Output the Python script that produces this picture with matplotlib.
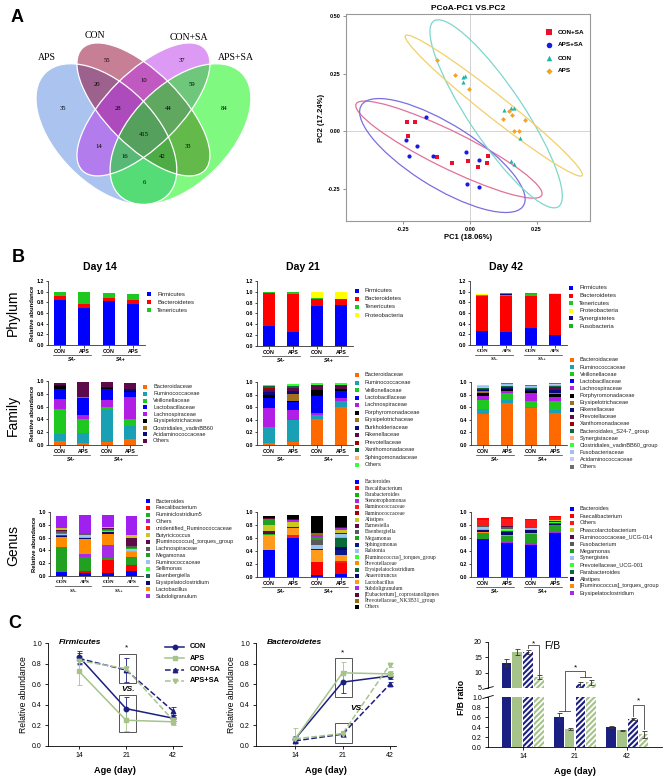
import matplotlib
matplotlib.use("Agg")
import matplotlib.pyplot as plt
import numpy as np
from matplotlib.lines import Line2D
from matplotlib.patches import Ellipse, Rectangle

plt.rcParams["font.family"] = ["Liberation Sans", "DejaVu Sans"]
plt.rcParams["hatch.linewidth"] = 1.3
plt.rcParams["hatch.color"] = "white"

W, H = 668, 777

# ---------------- panel A data ----------------
venn_sets = ["APS", "CON", "CON+SA", "APS+SA"]
venn_colors = ["#5789e1", "#91012d", "#bd37eb", "#01f501"]
venn_counts = [35, 55, 20, 10, 37, 59, 84, 28, 44, 415, 14, 33, 16, 42, 6]

pcoa_groups = ["CON+SA", "APS+SA", "CON", "APS"]
pcoa_colors = ["#e8102c", "#1a1ae6", "#1fb5ad", "#f5a21f"]
pcoa_ell_colors = ["#e2709a", "#7a6ee0", "#7fd6cc", "#f2cf6a"]
pcoa_markers = ["s", "o", "^", "D"]
con_sa_pc1 = [-0.236, -0.208, -0.234, -0.123, -0.066, -0.006, 0.031, 0.063, 0.066]
con_sa_pc2 = [0.039, 0.039, -0.022, -0.112, -0.138, -0.130, -0.155, -0.138, -0.109]
aps_sa_pc1 = [-0.167, -0.242, -0.199, -0.228, -0.138, -0.016, 0.033, -0.010, 0.033]
aps_sa_pc2 = [0.061, -0.039, -0.067, -0.110, -0.110, -0.090, -0.125, -0.232, -0.245]
con_pc1 = [-0.026, -0.018, -0.026, 0.128, 0.153, 0.165, 0.188, 0.153, 0.167]
con_pc2 = [0.233, 0.238, 0.213, 0.093, 0.100, 0.100, -0.030, -0.129, -0.143]
aps_pc1 = [-0.125, -0.056, -0.003, 0.148, 0.159, 0.125, 0.207, 0.165, 0.185]
aps_pc2 = [0.310, 0.245, 0.183, 0.086, 0.071, 0.052, 0.049, 0.001, 0.000]

# ---------------- panel B data ----------------
bar_groups = ["CON", "APS", "CON", "APS"]

phylum14_taxa = ["Firmicutes", "Bacteroidetes", "Tenericutes"]
phylum14_colors = ["#0000ff", "#ff0000", "#1ec81e"]
phylum14_values = [[0.85, 0.70, 0.83, 0.76],
                   [0.06, 0.06, 0.05, 0.09],
                   [0.08, 0.23, 0.095, 0.115]]

phylum21_taxa = ["Firmicutes", "Bacteroidetes", "Tenericutes", "Proteobacteria"]
phylum21_colors = ["#0000ff", "#ff0000", "#1ec81e", "#ffff00"]
phylum21_values = [[0.36, 0.25, 0.735, 0.75],
                   [0.61, 0.71, 0.13, 0.115],
                   [0.02, 0.03, 0.03, 0.01],
                   [0.0, 0.0, 0.095, 0.115]]

phylum42_taxa = ["Firmicutes", "Bacteroidetes", "Tenericutes", "Proteobacteria",
                 "Synergistetes", "Fusobacteria"]
phylum42_colors = ["#0000ff", "#ff0000", "#1ec81e", "#ffff00", "#0a0a80", "#1eb41e"]
phylum42_values = [[0.26, 0.24, 0.32, 0.19],
                   [0.66, 0.68, 0.60, 0.76],
                   [0.01, 0.02, 0.04, 0.0],
                   [0.02, 0.0, 0.0, 0.02],
                   [0.01, 0.01, 0.0, 0.0],
                   [0.0, 0.02, 0.02, 0.0]]

family14_taxa = ["Bacteroidaceae", "Ruminococcaceae", "Veillonellaceae", "Lactobacillaceae",
                 "Lachnospiraceae", "Erysipelotrichaceae", "Clostridiales_vadinBB60",
                 "Acidaminococcaceae", "Others"]
family14_colors = ["#ff6a00", "#1aa0b4", "#1ec81e", "#0000ff", "#b21ee6", "#000000",
                   "#a0701e", "#0a0a80", "#5c0a4a"]
family14_values = [[0.06, 0.035, 0.04, 0.09],
                   [0.105, 0.145, 0.50, 0.21],
                   [0.395, 0.22, 0.06, 0.10],
                   [0.155, 0.26, 0.17, 0.075],
                   [0.165, 0.07, 0.10, 0.355],
                   [0.035, 0.0, 0.015, 0.02],
                   [0.0, 0.02, 0.0, 0.0],
                   [0.02, 0.0, 0.015, 0.02],
                   [0.04, 0.24, 0.08, 0.105]]
family14_stack = [0, 1, 2, 4, 3, 5, 6, 7, 8]

family21_taxa = ["Bacteroidaceae", "Ruminococcaceae", "Veillonellaceae", "Lactobacillaceae",
                 "Lachnospiraceae", "Porphyromonadaceae", "Erysipelotrichaceae",
                 "Burkholderiaceae", "Rikenellaceae", "Prevotellaceae", "Xanthomonadaceae",
                 "Sphingomonadaceae", "Others"]
family21_colors = ["#ff6a00", "#1aa0b4", "#1ec81e", "#0000ff", "#b21ee6", "#000000",
                   "#a0701e", "#0a0a80", "#5c0a4a", "#a00000", "#0a6a3a", "#ffb482", "#33ff33"]
family21_values = [[0.03, 0.05, 0.41, 0.60],
                   [0.25, 0.345, 0.06, 0.10],
                   [0.0, 0.0, 0.0, 0.0],
                   [0.17, 0.115, 0.26, 0.11],
                   [0.30, 0.165, 0.04, 0.04],
                   [0.04, 0.02, 0.10, 0.04],
                   [0.0, 0.11, 0.0, 0.0],
                   [0.05, 0.06, 0.0, 0.0],
                   [0.03, 0.035, 0.085, 0.07],
                   [0.035, 0.0, 0.0, 0.0],
                   [0.025, 0.04, 0.0, 0.0],
                   [0.0, 0.0, 0.0, 0.0],
                   [0.03, 0.03, 0.025, 0.02]]
family21_stack = [0, 1, 2, 4, 3, 5, 6, 7, 8, 9, 10, 11, 12]

family42_taxa = ["Bacteroidaceae", "Ruminococcaceae", "Veillonellaceae", "Lactobacillaceae",
                 "Lachnospiraceae", "Porphyromonadaceae", "Erysipelotrichaceae",
                 "Rikenellaceae", "Prevotellaceae", "Xanthomonadaceae",
                 "Bacteroidales_S24-7_group", "Synergistaceae", "Clostridiales_vadinBB60_group",
                 "Fusobacteriaceae", "Acidaminococcaceae", "Others"]
family42_colors = ["#ff6a00", "#1aa0b4", "#1ec81e", "#0000ff", "#b21ee6", "#000000",
                   "#a0701e", "#0a0a80", "#5c0a4a", "#a00000", "#0a6a3a", "#ffb482",
                   "#33ff33", "#9cc3f5", "#c8c8f5", "#6e6e6e"]
family42_values = [[0.49, 0.67, 0.58, 0.51],
                   [0.08, 0.04, 0.03, 0.04],
                   [0.15, 0.11, 0.09, 0.15],
                   [0.0, 0.0, 0.0, 0.0],
                   [0.055, 0.03, 0.12, 0.06],
                   [0.055, 0.035, 0.03, 0.05],
                   [0.02, 0.01, 0.01, 0.02],
                   [0.025, 0.01, 0.02, 0.04],
                   [0.02, 0.01, 0.01, 0.05],
                   [0.0, 0.0, 0.0, 0.0],
                   [0.01, 0.02, 0.01, 0.01],
                   [0.01, 0.01, 0.01, 0.01],
                   [0.01, 0.01, 0.01, 0.01],
                   [0.01, 0.01, 0.01, 0.01],
                   [0.01, 0.005, 0.01, 0.01],
                   [0.015, 0.01, 0.01, 0.01]]
family42_stack = [0, 1, 2, 4, 3, 5, 6, 7, 8, 9, 10, 11, 12, 13, 14, 15]

genus14_taxa = ["Bacteroides", "Faecalibacterium", "Ruminiclostridium5", "Others",
                "unidentified_Ruminococcaceae", "Butyricicoccus",
                "[Ruminococcus]_torques_group", "Lachnospiraceae", "Megamonas",
                "Ruminococcaceae", "Sellimonas", "Eisenbergiella", "Erysipelatoclostridium",
                "Lactobacillus", "Subdoligranulum"]
genus14_colors = ["#0000ff", "#ff0000", "#1db31d", "#a020f0", "#ff1a1a", "#c8c81e",
                  "#5c0a4a", "#5a5a5a", "#22a022", "#9cc3f5", "#33ff33", "#0a6a4a",
                  "#0a0a70", "#ff8c00", "#a52be6"]
genus14_values = [[0.065, 0.04, 0.05, 0.08],
                  [0.0, 0.04, 0.20, 0.09],
                  [0.01, 0.01, 0.01, 0.02],
                  [0.175, 0.285, 0.20, 0.29],
                  [0.01, 0.0, 0.0, 0.0],
                  [0.03, 0.0, 0.01, 0.04],
                  [0.02, 0.01, 0.01, 0.13],
                  [0.04, 0.02, 0.02, 0.03],
                  [0.39, 0.21, 0.03, 0.11],
                  [0.01, 0.03, 0.01, 0.03],
                  [0.01, 0.01, 0.01, 0.02],
                  [0.01, 0.0, 0.01, 0.0],
                  [0.02, 0.01, 0.02, 0.0],
                  [0.15, 0.24, 0.17, 0.07],
                  [0.0, 0.055, 0.21, 0.02]]
genus14_stack = [0, 1, 8, 14, 13, 12, 11, 10, 9, 2, 7, 6, 5, 4, 3]

genus21_taxa = ["Bacteroides", "Faecalibacterium", "Parabacteroides", "Stenotrophomonas",
                "Ruminococcaceae", "Ruminococcaceae", "Alistipes", "Barnesiella",
                "Eisenbergiella", "Megamonas", "Sphingomonas", "Ralstonia",
                "[Ruminococcus]_torques_group", "Prevotellaceae", "Erysipelatoclostridium",
                "Anaerotruncus", "Lactobacillus", "Subdoligranulum",
                "[Eubacterium]_coprostanoligenes", "Prevotellaceae_NK3B31_group", "Others"]
genus21_colors = ["#0000ff", "#ff0000", "#11b511", "#b026e0", "#ff1a1a", "#a00000",
                  "#c8c81e", "#5c0a4a", "#5a5a5a", "#22a022", "#0a1a8a", "#9cc3f5",
                  "#33ff33", "#ff8c00", "#0a6a3a", "#0a0a70", "#ff9a1a", "#a52be6",
                  "#5c0a3a", "#9a6a10", "#000000"]
genus21_values = [[0.415, 0.60, 0.03, 0.05],
                  [0.0, 0.0, 0.20, 0.16],
                  [0.02, 0.0, 0.0, 0.0],
                  [0.0, 0.02, 0.02, 0.0],
                  [0.0, 0.04, 0.0, 0.03],
                  [0.0, 0.0, 0.0, 0.0],
                  [0.08, 0.08, 0.0, 0.05],
                  [0.05, 0.02, 0.0, 0.02],
                  [0.0, 0.0, 0.07, 0.0],
                  [0.09, 0.0, 0.04, 0.0],
                  [0.0, 0.0, 0.02, 0.08],
                  [0.0, 0.0, 0.07, 0.04],
                  [0.0, 0.0, 0.0, 0.02],
                  [0.0, 0.0, 0.0, 0.0],
                  [0.0, 0.0, 0.0, 0.14],
                  [0.0, 0.0, 0.0, 0.04],
                  [0.23, 0.11, 0.18, 0.10],
                  [0.0, 0.0, 0.01, 0.02],
                  [0.02, 0.02, 0.0, 0.02],
                  [0.0, 0.0, 0.04, 0.0],
                  [0.04, 0.06, 0.26, 0.17]]
genus21_stack = [0, 1, 4, 16, 13, 10, 15, 14, 12, 11, 8, 2, 7, 6, 9, 17, 3, 5, 18, 19, 20]

genus42_taxa = ["Bacteroides", "Faecalibacterium", "Others", "Phascolarctobacterium",
                "Ruminococcaceae_UCG-014", "Fusobacterium", "Megamonas", "Synergistes",
                "Prevotellaceae_UCG-001", "Parabacteroides", "Alistipes",
                "[Ruminococcus]_torques_group", "Erysipelatoclostridium"]
genus42_colors = ["#0000ff", "#ff0000", "#ff1a1a", "#c8c81e", "#5c0a4a", "#5a5a5a",
                  "#22a022", "#9cc3f5", "#33ff33", "#0a6a3a", "#0a0a70", "#ff8c00", "#a52be6"]
genus42_values = [[0.58, 0.52, 0.49, 0.68],
                  [0.03, 0.03, 0.02, 0.02],
                  [0.09, 0.11, 0.11, 0.04],
                  [0.0, 0.01, 0.0, 0.02],
                  [0.01, 0.01, 0.0, 0.01],
                  [0.01, 0.03, 0.02, 0.0],
                  [0.08, 0.09, 0.14, 0.10],
                  [0.03, 0.01, 0.01, 0.01],
                  [0.01, 0.02, 0.01, 0.01],
                  [0.01, 0.02, 0.01, 0.01],
                  [0.02, 0.04, 0.05, 0.02],
                  [0.03, 0.02, 0.01, 0.0],
                  [0.01, 0.02, 0.03, 0.02]]
genus42_stack = [0, 12, 6, 11, 10, 9, 8, 7, 5, 4, 3, 2, 1]

# ---------------- panel C data ----------------
ages = ["14", "21", "42"]
series_names = ["CON", "APS", "CON+SA", "APS+SA"]
firm_mean = [[0.866, 0.363, 0.27], [0.725, 0.25, 0.235], [0.85, 0.737, 0.34], [0.83, 0.75, 0.25]]
firm_err = [[0.06, 0.11, 0.03], [0.13, 0.10, 0.03], [0.05, 0.12, 0.04], [0.04, 0.03, 0.03]]
bact_mean = [[0.07, 0.62, 0.68], [0.07, 0.71, 0.70], [0.05, 0.115, 0.60], [0.07, 0.12, 0.79]]
bact_err = [[0.03, 0.11, 0.03], [0.10, 0.11, 0.03], [0.02, 0.03, 0.02], [0.02, 0.03, 0.02]]
fb_mean = [[13.3, 0.60, 0.40], [16.8, 0.36, 0.34], [16.8, 6.2, 0.56], [8.5, 6.8, 0.26]]
fb_err = [[1.2, 0.08, 0.02], [1.0, 0.02, 0.01], [0.6, 0.9, 0.02], [0.6, 0.8, 0.07]]

NAVY = "#1c1f82"
LGREEN = "#a6c38a"

fig = plt.figure(figsize=(W / 100, H / 100), dpi=100)


def add_ax(x0, y0, x1, y1):
    return fig.add_axes([x0 / W, 1 - y1 / H, (x1 - x0) / W, (y1 - y0) / H])


def ftext(x, y, s, **kw):
    return fig.text(x / W, 1 - y / H, s, **kw)


# ================= A: Venn =================
ftext(11, 17, "A", fontsize=13, weight="bold", va="center")
ax = add_ax(0, 0, 340, 220)
ax.set_xlim(0, 340)
ax.set_ylim(220, 0)
ax.axis("off")
scale = 247.0
cx = lambda X: 36 + (X - 0.065) * scale
cy = lambda Y: 43 + (0.839 - Y) * scale
ell_specs = [(0.35, 0.47, 0.35, 0.20, 45), (0.50, 0.57, 0.35, 0.15, 45),
             (0.50, 0.57, 0.35, 0.15, -45), (0.65, 0.47, 0.35, 0.20, -45)]
for (X, Y, a, b, ang), col in zip(ell_specs, venn_colors):
    ax.add_patch(Ellipse((cx(X), cy(Y)), 2 * a * scale, 2 * b * scale, angle=ang,
                         facecolor=col, alpha=0.5, edgecolor="none"))
for (X, Y, a, b, ang) in ell_specs:
    ax.add_patch(Ellipse((cx(X), cy(Y)), 2 * a * scale, 2 * b * scale, angle=ang,
                         facecolor="none", edgecolor="white", lw=0.9))
set_pos = [(47, 57), (95, 36), (189, 38), (236, 57)]
for name, (x, y) in zip(venn_sets, set_pos):
    ax.text(x, y, name, ha="center", va="center", fontsize=7, family="Liberation Serif")
count_pos = [(63, 108), (107, 60), (97, 85), (144, 81), (182, 60), (192, 85), (224, 108),
             (118, 108), (168, 108), (144, 135), (99, 147), (188, 147), (125, 157),
             (162, 157), (144, 183)]
for n, (x, y) in zip(venn_counts, count_pos):
    ax.text(x, y, str(n), ha="center", va="center", fontsize=4.8, family="Liberation Serif")

# ================= A: PCoA =================
ax = add_ax(346, 14, 590, 221)
ax.set_xlim(-0.466, 0.451)
ax.set_ylim(-0.391, 0.509)
ax.axhline(0, color="#cccccc", lw=0.6, zorder=0)
ax.axvline(0, color="#cccccc", lw=0.6, zorder=0)
K_MAJOR, K_MINOR = 2.8, 2.2
pcoa_pts = [(con_sa_pc1, con_sa_pc2), (aps_sa_pc1, aps_sa_pc2), (con_pc1, con_pc2),
            (aps_pc1, aps_pc2)]
for (px, py), ec in zip(pcoa_pts, pcoa_ell_colors):
    pts = np.column_stack([px, py])
    vals, vecs = np.linalg.eigh(np.cov(pts.T))
    ang = np.degrees(np.arctan2(vecs[1, 1], vecs[0, 1]))
    ax.add_patch(Ellipse(pts.mean(axis=0), 2 * K_MAJOR * np.sqrt(vals[1]),
                         2 * K_MINOR * np.sqrt(vals[0]), angle=ang,
                         facecolor="none", edgecolor=ec, lw=0.9))
for (px, py), col, mk in zip(pcoa_pts, pcoa_colors, pcoa_markers):
    ax.scatter(px, py, s=9 if mk != "D" else 6, marker=mk, color=col, linewidths=0,
               zorder=3)
# legend drawn at fixed spots inside the frame
for i, (name, col, mk) in enumerate(zip(pcoa_groups, pcoa_colors, pcoa_markers)):
    ya = 1 - (32 + 13 * i - 14) / 207
    ax.scatter([0.832], [ya], s=16 if mk != "D" else 10, marker=mk, color=col,
               linewidths=0, transform=ax.transAxes, clip_on=False, zorder=4)
    ax.text(0.869, ya, name, transform=ax.transAxes, fontsize=4.6, weight="bold",
            va="center")
ax.set_xticks([-0.25, 0.0, 0.25])
ax.set_yticks([-0.25, 0.0, 0.25, 0.50])
ax.set_xticklabels(["-0.25", "0.00", "0.25"])
ax.set_yticklabels(["-0.25", "0.00", "0.25", "0.50"])
ax.tick_params(labelsize=4, length=2, width=0.5, color="#666666", pad=2)
for lab in ax.get_xticklabels() + ax.get_yticklabels():
    lab.set_fontweight("bold")
for sp in ax.spines.values():
    sp.set_color("#999999")
    sp.set_linewidth(0.8)
ax.set_title("PCoA-PC1 VS.PC2", fontsize=6, weight="bold", pad=3)
ax.set_xlabel("PC1 (18.06%)", fontsize=5.5, weight="bold", labelpad=2)
ax.set_ylabel("PC2 (17.24%)", fontsize=5.5, weight="bold", labelpad=2)

# ================= B: stacked bars =================
ftext(12, 258, "B", fontsize=13, weight="bold", va="center")
for x, day in [(100, "Day 14"), (303, "Day 21"), (506, "Day 42")]:
    ftext(x, 267, day, fontsize=7.6, weight="bold", ha="center", va="center")
for y, row in [(313, "Phylum"), (415, "Family"), (546, "Genus")]:
    ftext(13, y, row, fontsize=10, rotation=90, ha="center", va="center")


def stacked_panel(box, colors, values, order, ymax, ylabel, serif_ticks=False):
    x0, y0, x1, y1 = box
    ax = add_ax(*box)
    xs = np.arange(4)
    bottom = np.zeros(4)
    for i in order:
        v = np.asarray(values[i], dtype=float)
        ax.bar(xs, v, 0.5, bottom=bottom, color=colors[i], linewidth=0)
        bottom += v
    ax.set_xlim(-0.5, 3.5)
    ax.set_ylim(0, ymax)
    ticks = np.arange(0, ymax + 0.01, 0.2)
    ax.set_yticks(ticks)
    ax.set_yticklabels([f"{t:.1f}" for t in ticks])
    ax.set_xticks(xs)
    fam = "Liberation Serif" if serif_ticks else "Liberation Sans"
    ax.set_xticklabels(bar_groups, family=fam)
    ax.tick_params(labelsize=3.8, length=1.8, width=0.5, pad=1)
    for lab in ax.get_xticklabels() + ax.get_yticklabels():
        lab.set_fontweight("bold")
    for s in ("top", "right"):
        ax.spines[s].set_visible(False)
    for s in ("left", "bottom"):
        ax.spines[s].set_linewidth(0.6)
        ax.spines[s].set_color("#333333")
    hpx = y1 - y0
    tr = ax.get_xaxis_transform()
    for (a, b), lab in [((0, 1), "SA-"), ((2, 3), "SA+")]:
        ax.plot([a - 0.28, b + 0.28], [-10 / hpx] * 2, color="#333333", lw=0.5,
                transform=tr, clip_on=False)
        ax.text((a + b) / 2, -14.5 / hpx, lab, transform=tr, ha="center", va="center",
                fontsize=3.5, weight="bold", style="italic", family=fam)
    if ylabel:
        ax.set_ylabel("Relative abundance", fontsize=4.2, weight="bold", labelpad=1.5)
    return ax


def box_legend(xm, ytop, step, names, colors, size=4.3, family="Liberation Sans"):
    for i, (name, col) in enumerate(zip(names, colors)):
        y = ytop + i * step
        fig.add_artist(Rectangle(((xm - 2) / W, 1 - (y + 2) / H), 4 / W, 4 / H,
                                 transform=fig.transFigure, facecolor=col, edgecolor="none"))
        ftext(xm + 8, y, name, fontsize=size, va="center", family=family, color="#222222")


ident = lambda n: list(range(n))
stacked_panel((48, 281, 145, 345), phylum14_colors, phylum14_values, ident(3), 1.2, True)
box_legend(149, 294, 8, phylum14_taxa, phylum14_colors)
stacked_panel((257, 281, 353, 346), phylum21_colors, phylum21_values, ident(4), 1.2, False)
box_legend(357, 291, 8, phylum21_taxa, phylum21_colors)
stacked_panel((470, 281, 567, 345), phylum42_colors, phylum42_values, ident(6), 1.2, False,
              serif_ticks=True)
box_legend(571, 288, 7.6, phylum42_taxa, phylum42_colors)

stacked_panel((48, 381, 142, 445), family14_colors, family14_values, family14_stack, 1.0, True)
box_legend(145, 387, 6.75, family14_taxa, family14_colors, size=4.1)
stacked_panel((257, 382, 353, 445), family21_colors, family21_values, family21_stack, 1.0, False)
box_legend(357, 375, 7.5, family21_taxa, family21_colors, size=4.1)
stacked_panel((471, 382, 567, 445), family42_colors, family42_values, family42_stack, 1.0, False)
box_legend(572, 360, 7.1, family42_taxa, family42_colors, size=4.1)

stacked_panel((50, 512, 143, 576), genus14_colors, genus14_values, genus14_stack, 1.0, True,
              serif_ticks=True)
box_legend(148, 501, 6.8, genus14_taxa, genus14_colors, size=4.0)
stacked_panel((257, 512, 353, 577), genus21_colors, genus21_values, genus21_stack, 1.0, False)
box_legend(357, 482, 6.25, genus21_taxa, genus21_colors, size=4.0, family="Liberation Serif")
stacked_panel((471, 512, 567, 577), genus42_colors, genus42_values, genus42_stack, 1.0, False)
box_legend(572, 509, 7.0, genus42_taxa, genus42_colors, size=4.1)

# ================= C: line plots =================
ftext(8, 623, "C", fontsize=13, weight="bold", va="center")
styles = [dict(color=NAVY, ls="-", marker="o"), dict(color=LGREEN, ls="-", marker="s"),
          dict(color=NAVY, ls="--", marker="^"), dict(color=LGREEN, ls="--", marker="v")]


def line_panel(box, means, errs, title, xlim):
    ax = add_ax(*box)
    xs = np.arange(3)
    for m, e, st in zip(means, errs, styles):
        ax.errorbar(xs, m, yerr=e, lw=1.1, ms=3.2, capsize=1.8, elinewidth=0.6,
                    capthick=0.6, **st)
    ax.set_xlim(*xlim)
    ax.set_ylim(0, 1.0)
    ax.set_xticks(xs)
    ax.set_xticklabels(ages)
    ticks = np.arange(0, 1.01, 0.2)
    ax.set_yticks(ticks)
    ax.set_yticklabels([f"{t:.1f}" for t in ticks])
    ax.tick_params(labelsize=5, length=2.5, width=0.6, pad=2)
    for s in ("top", "right"):
        ax.spines[s].set_visible(False)
    for s in ("left", "bottom"):
        ax.spines[s].set_linewidth(0.6)
    ax.set_ylabel("Relative abundance", fontsize=6.2, labelpad=3)
    ax.set_xlabel("Age (day)", fontsize=6.6, weight="bold", labelpad=5)
    ax.text(0.08, 1.0, title, transform=ax.transAxes, fontsize=6, weight="bold",
            style="italic", va="center")
    return ax


axf = line_panel((48, 643, 182, 746), firm_mean, firm_err, "Firmicutes", (-0.66, 2.19))
for y0, y1 in [(0.61, 0.89), (0.14, 0.50)]:
    axf.add_patch(Rectangle((0.84, y0), 0.37, y1 - y0, fill=False, lw=0.7, ec="#555555"))
axf.text(1.0, 0.95, "*", ha="center", va="center", fontsize=6)
axf.text(1.05, 0.55, "VS.", ha="center", va="center", fontsize=6, weight="bold",
         style="italic")

axb = line_panel((256, 643, 396, 746), bact_mean, bact_err, "Bacteroidetes", (-0.83, 2.13))
for y0, y1 in [(0.48, 0.85), (0.03, 0.22)]:
    axb.add_patch(Rectangle((0.84, y0), 0.36, y1 - y0, fill=False, lw=0.7, ec="#555555"))
axb.text(1.0, 0.90, "*", ha="center", va="center", fontsize=6)
axb.text(1.3, 0.36, "VS.", ha="center", va="center", fontsize=6, weight="bold",
         style="italic")

for i, (name, st) in enumerate(zip(series_names, styles)):
    y = 1 - (647 + i * 11.3) / H
    fig.add_artist(Line2D(np.array([165, 174.5, 184]) / W, [y, y, y], markevery=[1],
                          lw=1.1, ms=3.2, transform=fig.transFigure, **st))
    ftext(190, 647 + i * 11.3, name, fontsize=5.3, weight="bold", va="center")

# ================= C: F/B broken axis =================
ax_top = add_ax(488, 642, 662, 688)
ax_bot = add_ax(488, 697, 662, 747)
offsets = [-0.315, -0.105, 0.105, 0.315]
bar_styles = [dict(color=NAVY), dict(color=LGREEN),
              dict(facecolor=NAVY, edgecolor="white", hatch="//////"),
              dict(facecolor=LGREEN, edgecolor="white", hatch="//////")]
gx = np.arange(3)
for m, e, off, bs in zip(fb_mean, fb_err, offsets, bar_styles):
    for a in (ax_top, ax_bot):
        a.bar(gx + off, m, 0.19, linewidth=0, **bs)
    m = np.asarray(m)
    e = np.asarray(e)
    hi = m > 5
    ax_top.errorbar((gx + off)[hi], m[hi], yerr=e[hi], fmt="none", ecolor="#333333",
                    elinewidth=0.6, capsize=1.8, capthick=0.6)
    ax_bot.errorbar((gx + off)[~hi], m[~hi], yerr=e[~hi], fmt="none", ecolor="#333333",
                    elinewidth=0.6, capsize=1.8, capthick=0.6)
for a in (ax_top, ax_bot):
    a.set_xlim(-0.67, 2.67)
    for s in ("top", "right"):
        a.spines[s].set_visible(False)
    a.spines["left"].set_linewidth(0.6)
    a.tick_params(labelsize=5, length=2.5, width=0.6, pad=2)
ax_top.set_ylim(5, 20)
ax_top.set_yticks([5, 10, 15, 20])
ax_top.spines["bottom"].set_visible(False)
ax_top.set_xticks([])
ax_bot.set_ylim(0, 1.0)
ticks = np.arange(0, 1.01, 0.2)
ax_bot.set_yticks(ticks)
ax_bot.set_yticklabels([f"{t:.1f}" for t in ticks])
ax_bot.spines["bottom"].set_linewidth(0.6)
ax_bot.set_xticks(gx)
ax_bot.set_xticklabels(ages)
ax_bot.set_xlabel("Age (day)", fontsize=6.6, weight="bold", labelpad=5)
ax_top.text(0.37, 0.92, "F/B", transform=ax_top.transAxes, fontsize=7.5, ha="center",
            va="center")
ftext(462, 697, "F/B ratio", fontsize=6.2, weight="bold", rotation=90, ha="center",
      va="center")
for a, yy in [(ax_top, 0.0), (ax_bot, 1.0)]:
    a.plot([-0.03, 0.03], [yy - 0.03, yy + 0.03], transform=a.transAxes, color="black",
           lw=0.6, clip_on=False)

# significance brackets
o3, o4 = offsets[2], offsets[3]
ax_top.plot([o3, o3, o4, o4], [18.2, 19.0, 19.0, 9.4], color="#444444", lw=0.6)
ax_top.text((o3 + o4) / 2, 19.5, "*", ha="center", va="center", fontsize=6)
ax_bot.plot([2 + o3, 2 + o3, 2 + o4, 2 + o4], [0.62, 0.85, 0.85, 0.36], color="#444444",
            lw=0.6)
ax_bot.text(2 + (o3 + o4) / 2, 0.93, "*", ha="center", va="center", fontsize=6)
inv = fig.transFigure.inverted()
pts = inv.transform([ax_bot.transData.transform((1 - 0.2, 0.72)),
                     ax_top.transData.transform((1 - 0.2, 10.6)),
                     ax_top.transData.transform((1 + 0.2, 10.6)),
                     ax_top.transData.transform((1 + 0.2, 8.6))])
fig.add_artist(Line2D(pts[:, 0], pts[:, 1], color="#444444", lw=0.6,
                      transform=fig.transFigure))
ax_bot.plot([1 + offsets[0], 1 + offsets[1]], [0.72, 0.72], color="#444444", lw=0.6)
ax_top.plot([1 + o3, 1 + o4], [8.6, 8.6], color="#444444", lw=0.6)
ax_top.text(1.0, 11.6, "*", ha="center", va="center", fontsize=6)

fig.savefig("out.png", dpi=100)
